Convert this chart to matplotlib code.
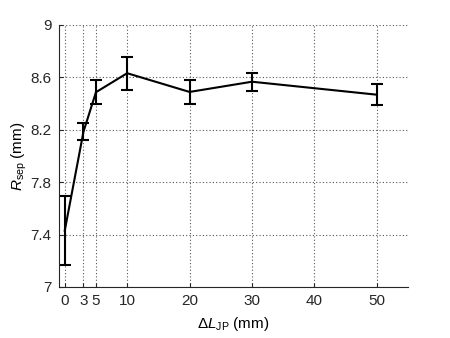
import matplotlib
matplotlib.use("Agg")
import matplotlib.pyplot as plt

plt.rcParams['font.family'] = ['Liberation Sans', 'DejaVu Sans']
plt.rcParams['mathtext.fontset'] = 'custom'
plt.rcParams['mathtext.rm'] = 'Liberation Sans'
plt.rcParams['mathtext.it'] = 'Liberation Sans:italic'

dL = [0, 3, 5, 10, 20, 30, 50]
r_sep = [7.43, 8.185, 8.487, 8.632, 8.489, 8.567, 8.468]
r_err = [0.262, 0.064, 0.093, 0.127, 0.093, 0.068, 0.079]
x_ticks = [0, 3, 5, 10, 20, 30, 40, 50]
y_ticks = [7, 7.4, 7.8, 8.2, 8.6, 9]
y_tick_labels = ['7', '7.4', '7.8', '8.2', '8.6', '9']

fig = plt.figure(figsize=(4.5, 3.38), dpi=100)
ax = fig.add_axes([58.5/450, 1-287/338, (408-58.5)/450, (287-25)/338])

ax.errorbar(dL, r_sep, yerr=r_err, color='black', lw=1.5, elinewidth=1.5,
            capsize=4, capthick=1.5)

ax.set_xlim(-1, 55)
ax.set_ylim(7, 9)
ax.set_xticks(x_ticks)
ax.set_yticks(y_ticks)
ax.set_yticklabels(y_tick_labels)
ax.grid(True, linestyle=(0, (1, 2)), color='#555555', linewidth=0.8)
ax.set_axisbelow(True)
for s in ['top', 'right']:
    ax.spines[s].set_visible(False)
for s in ['left', 'bottom']:
    ax.spines[s].set_color('#262626')
ax.tick_params(direction='in', labelsize=11, colors='#262626', length=3, pad=5)
ax.set_xlabel(r'$\Delta L_{\mathrm{JP}}$ (mm)', fontsize=11, labelpad=5)
ax.set_ylabel(r'$R_{\mathrm{sep}}$ (mm)', fontsize=11, labelpad=1)

fig.savefig('out.png', dpi=100)
